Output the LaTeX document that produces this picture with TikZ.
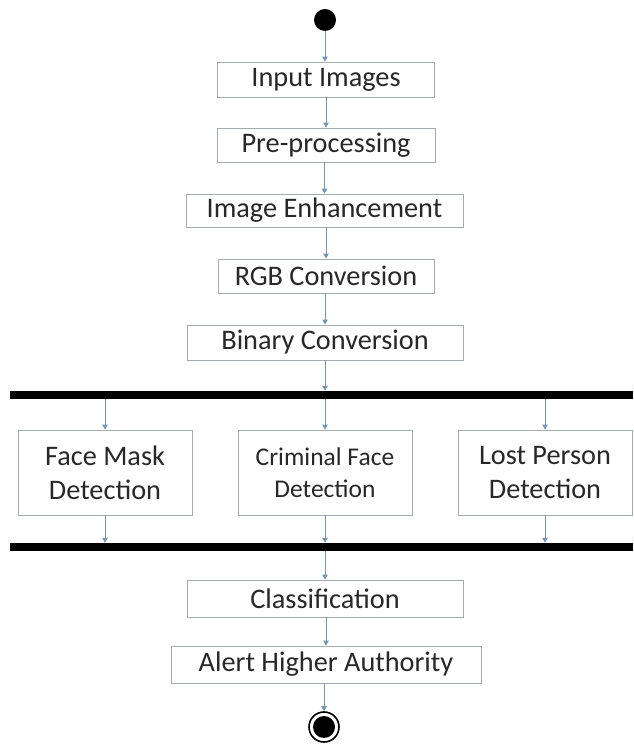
\documentclass[tikz,border=0pt]{standalone}
\usepackage{fontspec}
\setmainfont{Carlito}
\usetikzlibrary{arrows.meta}
\definecolor{arrcol}{RGB}{115,150,185}
\definecolor{boxcol}{RGB}{165,170,175}
\definecolor{txtcol}{RGB}{40,40,40}
\begin{document}
\begin{tikzpicture}[x=1pt,y=1pt,
  box/.style={draw=boxcol,line width=0.8pt,fill=white,inner sep=0pt,text=txtcol,
    font=\fontsize{28.3}{34}\selectfont,align=center},
  arr/.style={draw=arrcol,line width=0.9pt,-{Triangle[width=5.5pt,length=5pt]}},
  bar/.style={fill=black,inner sep=0pt,minimum width=623pt,minimum height=8pt}]
\useasboundingbox (0,0) rectangle (633,744);
% start
\node[circle,fill=black,minimum size=22pt,inner sep=0pt] (start) at (325,724) {};
% sequential boxes
\node[box,minimum width=217pt,minimum height=35pt] (inp) at (326,664.5) {Input Images};
\node[box,minimum width=218pt,minimum height=34pt] (pre) at (326,599) {Pre-processing};
\node[box,minimum width=277pt,minimum height=33pt] (enh) at (324.5,533.5) {Image Enhancement};
\node[box,minimum width=216pt,minimum height=34pt] (rgb) at (326,468) {RGB Conversion};
\node[box,minimum width=276pt,minimum height=35pt] (bin) at (325,401.5) {Binary Conversion};
% fork bar
\node[bar] (fork) at (321.5,349) {};
% parallel boxes
\node[box,minimum width=174pt,minimum height=85pt] (fm) at (105,271.5) {Face Mask\\Detection};
\node[box,minimum width=174pt,minimum height=85pt,font=\fontsize{25.5}{32}\selectfont] (cf) at (325,271.5) {Criminal Face\\Detection};
\node[box,minimum width=174pt,minimum height=85pt] (lp) at (545,271.5) {Lost Person\\Detection};
% join bar
\node[bar] (join) at (321.5,197) {};
% final boxes
\node[box,minimum width=276pt,minimum height=37pt] (cls) at (325,145.5) {Classification};
\node[box,minimum width=310pt,minimum height=37pt] (alert) at (326,79.5) {Alert Higher Authority};
% end
\node[circle,draw=black,line width=1.6pt,fill=white,minimum size=30pt,inner sep=0pt] (end) at (324,17) {};
\node[circle,fill=black,minimum size=22pt,inner sep=0pt] (endin) at (end.center) {};
% connectors
\draw[arr] (start) -- (start |- inp.north);
\draw[arr] (inp.south -| pre.north) -- (pre.north);
\draw[arr] (pre.south -| enh.north) -- (enh.north);
\draw[arr] (enh.south -| rgb.north) -- (rgb.north);
\draw[arr] (rgb.south -| bin.north) -- (bin.north);
\draw[arr] (bin.south) -- (bin.south |- fork.north);
\draw[arr] (fm.north |- fork.south) -- (fm.north);
\draw[arr] (cf.north |- fork.south) -- (cf.north);
\draw[arr] (lp.north |- fork.south) -- (lp.north);
\draw[arr] (fm.south) -- (fm.south |- join.north);
\draw[arr] (cf.south) -- (cf.south |- join.north);
\draw[arr] (lp.south) -- (lp.south |- join.north);
\draw[arr] (cls.north |- join.south) -- (cls.north);
\draw[arr] (cls.south) -- (cls.south -| alert.north) -- (alert.north);
\draw[arr] (alert.south -| end.north) -- (end.north);
\end{tikzpicture}
\end{document}
